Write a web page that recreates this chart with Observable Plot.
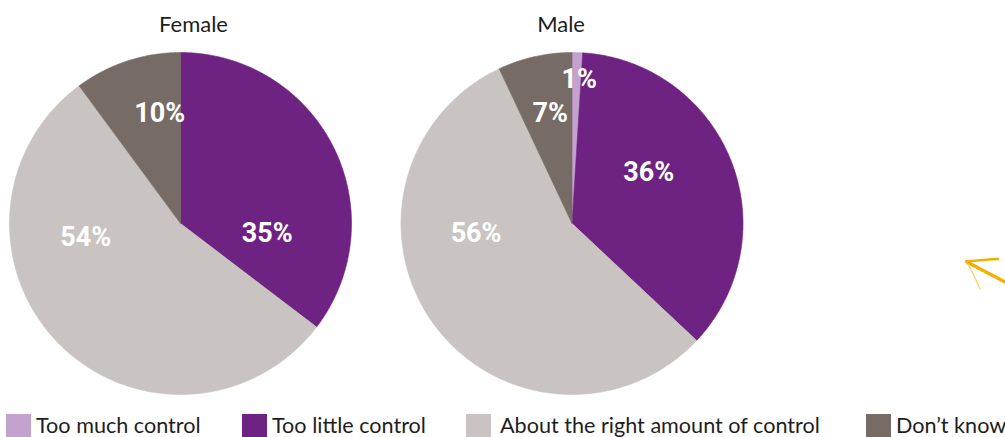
<!DOCTYPE html>
<html>
<head>
<meta charset="utf-8">
<script src="https://cdn.jsdelivr.net/npm/d3@7"></script>
<script src="https://cdn.jsdelivr.net/npm/@observablehq/plot@0.6"></script>
<style>
  html, body { margin: 0; padding: 0; background: #fff; }
  body { width: 1005px; height: 437px; overflow: hidden; position: relative; font-family: Lato, "Open Sans", sans-serif; }
  #chart svg { display: block; }
  #legend { position: relative; height: 32px; overflow: hidden; }
  .item { position: absolute; top: 0; display: flex; align-items: flex-start; gap: 5px; font-size: 21.6px; color: #1e1e1e; white-space: nowrap; }
  .sw { width: 25px; height: 24px; margin-top: 9px; flex: none; }
  .item span { line-height: 24px; padding-top: 8px; }
  #pointer { position: absolute; left: 940px; top: 240px; }
</style>
</head>
<body>
<div id="chart"></div>
<div id="legend"></div>
<!-- decorative pointer at the right edge -->
<svg id="pointer" width="65" height="60" viewBox="0 0 65 60">
  <path d="M65 42 C52 35 38 28 27 22" fill="none" stroke="#f7ad00" stroke-width="3.2" stroke-linecap="round"/>
  <path d="M26 21.5 C36 20.5 47 19.5 58 19" fill="none" stroke="#f7ad00" stroke-width="2.4" stroke-linecap="round"/>
  <path d="M27 23 C32 30 36 40 40 49" fill="none" stroke="#f7c040" stroke-width="1.4" stroke-linecap="round" opacity="0.7"/>
</svg>
<script>
// Survey answers by sex, in percent
const categories = ["Too much control", "Too little control", "About the right amount of control", "Don\u2019t know"];
const sexes = ["Female", "Male"];
const female = [0, 35, 54, 10];
const male = [1, 36, 56, 7];
const colors = ["#c4a2d0", "#6e2281", "#c9c4c1", "#776b65"];

// Where each percentage label sits: [angle in degrees clockwise from 12 o'clock, fraction of radius]
const labelSpots = {
  Female: [null, [96.6, 0.51], [261.8, 0.56], [349.3, 0.653]],
  Male: [[2.9, 0.844], [56.3, 0.54], [263.9, 0.564], [348.8, 0.658]]
};
// Horizontal nudge of each title, in radii
const titleShift = {Female: 0.076, Male: -0.064};
// Left edge of each legend entry and gap between swatch and text, in pixels
const legendLeft = [6, 242, 466, 866];
const legendGap = [5, 5, 9, 5];

const series = {Female: female, Male: male};

// Build a closed outline for every slice from d3.pie angles (unit radius)
const slices = [];
const labels = [];
for (const sex of sexes) {
  const values = series[sex];
  const arcs = d3.pie().sort(null).value(d => d)(values);
  arcs.forEach((a, i) => {
    if (a.value <= 0) return;
    const key = sex + "-" + i;
    const base = {sex, category: categories[i], key};
    slices.push({...base, x: 0, y: 0});
    const n = Math.max(2, Math.ceil((a.endAngle - a.startAngle) / 0.008));
    for (let k = 0; k <= n; ++k) {
      const t = a.startAngle + (a.endAngle - a.startAngle) * k / n;
      slices.push({...base, x: Math.sin(t), y: Math.cos(t)});
    }
    slices.push({...base, x: 0, y: 0});
    const spot = labelSpots[sex][i];
    if (spot) {
      const t = spot[0] * Math.PI / 180;
      labels.push({sex, text: values[i] + "%", x: spot[1] * Math.sin(t), y: spot[1] * Math.cos(t)});
    }
  });
}
const titles = sexes.map(sex => ({sex, x: titleShift[sex], y: 1}));

const chart = Plot.plot({
  width: 1005,
  height: 405,
  marginLeft: 9,
  marginRight: 262.5,
  marginTop: 52,
  marginBottom: 11,
  facet: {marginTop: 0, marginRight: 0, marginBottom: 0, marginLeft: 0},
  fx: {domain: sexes, paddingInner: 1 - 342 / 391.5, paddingOuter: 0, round: false, axis: null, label: null},
  x: {domain: [-1, 1], axis: null},
  y: {domain: [-1, 1], axis: null},
  color: {domain: categories, range: colors},
  style: {background: "transparent", overflow: "visible"},
  marks: [
    Plot.line(slices, {x: "x", y: "y", z: "key", fx: "sex", fill: "category", stroke: "category", strokeWidth: 0.6, curve: "linear"}),
    Plot.text(labels, {x: "x", y: "y", fx: "sex", text: "text", fill: "white", fontSize: 27, fontWeight: 700, fontFamily: "Roboto"}),
    Plot.text(titles, {x: "x", y: "y", fx: "sex", text: "sex", dy: -21, lineAnchor: "bottom", fontSize: 22, fontFamily: "Lato", fill: "#1e1e1e"})
  ]
});
document.getElementById("chart").append(chart);

// Legend row under the pies
const legend = document.getElementById("legend");
categories.forEach((c, i) => {
  const item = document.createElement("div");
  item.className = "item";
  item.style.left = legendLeft[i] + "px";
  item.style.gap = legendGap[i] + "px";
  const sw = document.createElement("div");
  sw.className = "sw";
  sw.style.background = colors[i];
  const label = document.createElement("span");
  label.textContent = c;
  item.append(sw, label);
  legend.append(item);
});
</script>
</body>
</html>
